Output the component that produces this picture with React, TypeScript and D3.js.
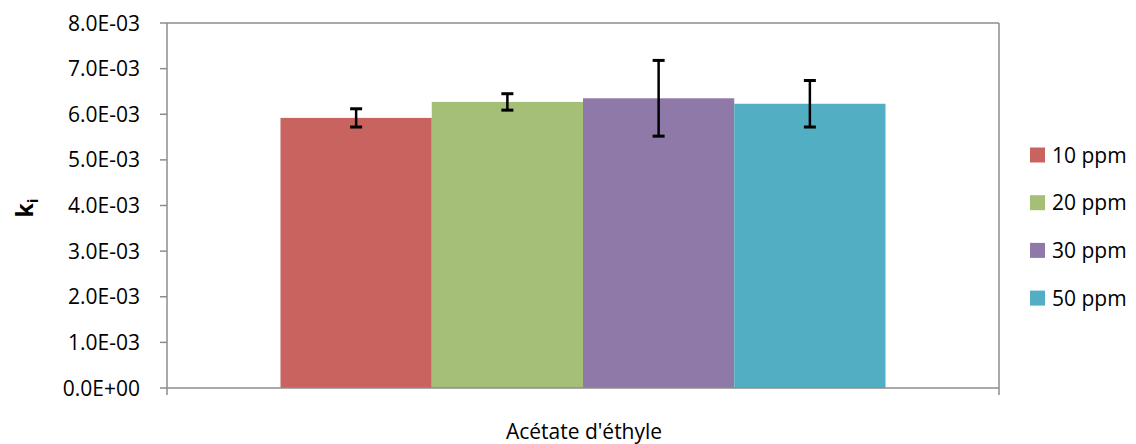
import React from "react";
import * as d3 from "d3";

const categories = ["Acétate d'éthyle"];
const seriesNames = ["10 ppm", "20 ppm", "30 ppm", "50 ppm"];
const seriesValues = [5.92e-3, 6.27e-3, 6.35e-3, 6.23e-3];
const seriesErrors = [0.2e-3, 0.18e-3, 0.83e-3, 0.51e-3];
const seriesColors = ["#c9635f", "#a5bf76", "#8f79a8", "#52afc3"];
const yTicks = [0, 1e-3, 2e-3, 3e-3, 4e-3, 5e-3, 6e-3, 7e-3, 8e-3];

const W = 1136, H = 444;
const left = 167, right = 999, top = 23, bottom = 388;

const fmt = (v: number) => {
  const e = v === 0 ? 0 : Math.floor(Math.log10(Math.abs(v)) + 1e-9);
  const m = v / Math.pow(10, e);
  const sign = e < 0 ? "-" : "+";
  return `${m.toFixed(1)}E${sign}${String(Math.abs(e)).padStart(2, "0")}`;
};

export default function App() {
  const y = d3.scaleLinear().domain([0, 8e-3]).range([bottom, top]);
  const x0 = d3.scaleBand().domain(categories).range([left, right]).paddingInner(0).paddingOuter(0);
  const bandW = x0.bandwidth();
  const groupW = bandW * (605 / 832);
  const x1 = d3.scaleBand().domain(seriesNames).range([0, groupW]).padding(0);
  const font = "'Open Sans', sans-serif";
  const axisColor = "#8c8c8c";
  return (
    <svg width={W} height={H} style={{ position: "absolute", left: 0, top: 0 }}>
      <rect x={0} y={0} width={W} height={H} fill="#fff" />
      <line x1={left} x2={right} y1={top} y2={top} stroke={axisColor} strokeWidth={1.5} />
      <line x1={right} x2={right} y1={top} y2={bottom} stroke={axisColor} strokeWidth={1.5} />
      {categories.map((c) => {
        const gx = (x0(c) as number) + (bandW - groupW) / 2;
        return (
          <g key={c}>
            {seriesNames.map((s, i) => {
              const bx = gx + (x1(s) as number);
              const v = seriesValues[i];
              return (
                <rect key={s} x={bx} y={y(v)} width={x1.bandwidth()} height={bottom - y(v)} fill={seriesColors[i]} />
              );
            })}
          </g>
        );
      })}
      {categories.map((c) => {
        const gx = (x0(c) as number) + (bandW - groupW) / 2;
        return (
          <g key={c + "e"}>
            {seriesNames.map((s, i) => {
              const cx = gx + (x1(s) as number) + x1.bandwidth() / 2;
              const v = seriesValues[i], e = seriesErrors[i];
              return (
                <g key={s} stroke="#000" strokeWidth={2.5}>
                  <line x1={cx} x2={cx} y1={y(v + e)} y2={y(v - e)} />
                  <line x1={cx - 6} x2={cx + 6} y1={y(v + e)} y2={y(v + e)} strokeWidth={3} />
                  <line x1={cx - 6} x2={cx + 6} y1={y(v - e)} y2={y(v - e)} strokeWidth={3} />
                </g>
              );
            })}
          </g>
        );
      })}
      <line x1={left} x2={left} y1={top} y2={bottom} stroke={axisColor} strokeWidth={1.5} />
      <line x1={left} x2={right} y1={bottom} y2={bottom} stroke={axisColor} strokeWidth={1.5} />
      <line x1={left} x2={left} y1={bottom} y2={bottom + 7} stroke={axisColor} strokeWidth={1.5} />
      <line x1={right} x2={right} y1={bottom} y2={bottom + 7} stroke={axisColor} strokeWidth={1.5} />
      {yTicks.map((t) => (
        <g key={t}>
          <line x1={left - 7} x2={left} y1={y(t)} y2={y(t)} stroke={axisColor} strokeWidth={1.5} />
          <text x={140} y={y(t)} dy="0.36em" textAnchor="end" fontFamily={font} fontSize={21} fill="#000">
            {fmt(t)}
          </text>
        </g>
      ))}
      <text transform={`translate(33,208) rotate(-90)`} textAnchor="middle" fontFamily={font} fontSize={23} fontWeight="bold" fill="#000">
        k<tspan fontSize={15} dy={5}>i</tspan>
      </text>
      <text x={584} y={439} textAnchor="middle" fontFamily={font} fontSize={21} fill="#000">
        {categories[0]}
      </text>
      {seriesNames.map((s, i) => {
        const cy = 155 + i * 47.7;
        return (
          <g key={s}>
            <rect x={1030} y={cy - 7.5} width={15} height={15} fill={seriesColors[i]} />
            <text x={1052} y={cy} dy="0.36em" fontFamily={font} fontSize={21} fill="#000">
              {s}
            </text>
          </g>
        );
      })}
    </svg>
  );
}
